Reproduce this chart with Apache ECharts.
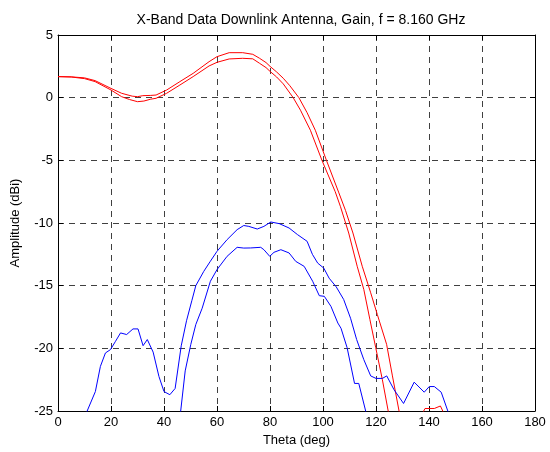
<!DOCTYPE html>
<html>
<head>
<meta charset="utf-8">
<script src="https://cdn.jsdelivr.net/npm/echarts@6/dist/echarts.min.js"></script>
<style>html,body{margin:0;padding:0;background:#fff}#c{width:550px;height:452px}</style>
</head>
<body>
<div id="c"></div>
<script>
var titleText = 'X-Band Data Downlink Antenna, Gain, f = 8.160 GHz';
var xTicks = [0, 20, 40, 60, 80, 100, 120, 140, 160, 180];
var yTicks = [-25, -20, -15, -10, -5, 0, 5];

var red1Theta = [0, 5, 10, 14, 20, 24, 28, 30, 32, 35, 37, 41, 46, 51, 57, 60, 64.6, 69.7, 73.5, 76, 78.5, 80, 82.5, 85, 87.5, 90.9, 94, 97.1, 101.3, 106, 108.5, 111.3, 114.8, 118, 120.5, 124, 126.2, 128.7, 133, 138, 138.5, 142, 144.3, 145.2, 148];
var red1Gain  = [1.68, 1.66, 1.58, 1.36, 0.74, 0.35, 0.12, 0.08, 0.16, 0.18, 0.21, 0.61, 1.28, 1.94, 2.87, 3.27, 3.59, 3.59, 3.46, 3.15, 2.8, 2.5, 2.05, 1.55, 0.95, 0, -1.2, -2.6, -5, -7.6, -9.0, -10.8, -13.45, -15.57, -17.3, -19.68, -22.2, -25, -28, -25, -24.8, -24.8, -24.6, -25, -28];

var red2Theta = [0, 5, 10, 14, 20, 24, 27, 30, 32.4, 35, 37, 41, 46, 51, 57, 60, 64.6, 69.7, 73.5, 76, 78.5, 80, 82.5, 85, 88.75, 91.5, 95.25, 99.6, 104.6, 106.6, 109.7, 112.9, 115.4, 117.7, 119.9, 122.4, 124.6, 127];
var red2Gain  = [1.68, 1.65, 1.52, 1.28, 0.61, 0.08, -0.15, -0.32, -0.27, -0.12, -0.05, 0.35, 1.01, 1.68, 2.53, 2.82, 3.09, 3.14, 3.1, 2.75, 2.4, 2.1, 1.65, 1.1, 0, -1.0, -2.6, -5, -7.5, -8.7, -10.8, -13.45, -15.3, -17.7, -19.95, -22.5, -25, -28];

var blue1Theta = [9, 11, 14.1, 16, 17.9, 19.8, 21.7, 23.6, 25.9, 28.3, 30.2, 32.1, 33.7, 35.9, 38.1, 40, 42.2, 44.2, 46.5, 48.5, 50.5, 52, 55, 57.5, 60, 63.8, 67.6, 70.1, 72, 75.2, 77.7, 80.3, 83.5, 87.2, 90.4, 94, 96, 98, 100.3, 102.3, 105, 107.8, 110.4, 112.7, 115.4, 118, 120, 122.4, 124.05, 126.8, 130.4, 134.4, 138.2, 140.1, 142, 144.6, 147.1, 149];
var blue1Gain  = [-28, -25, -23.45, -21.44, -20.37, -20.1, -19.44, -18.77, -18.9, -18.45, -18.45, -19.79, -19.3, -20.3, -22.25, -23.45, -23.7, -23.2, -19.8, -17.8, -16.2, -15.0, -13.86, -13.05, -12.26, -11.33, -10.53, -10.2, -10.27, -10.48, -10.27, -9.92, -10.05, -10.4, -10.93, -11.46, -12.5, -13.2, -13.6, -14.4, -15.1, -16.1, -17.6, -19.3, -20.9, -22.2, -22.4, -22.4, -22.2, -23.3, -24.4, -22.7, -23.5, -23.05, -23.05, -23.5, -25, -28];

var blue2Theta = [44, 46.3, 48, 50.1, 52, 54.4, 57.5, 60, 63.8, 67.6, 70.1, 72.7, 76.5, 77.7, 79.9, 81.5, 84.1, 87.2, 89.7, 92.9, 96.1, 98.6, 100.5, 103, 105.6, 106.8, 109.1, 111.9, 113.5, 116.1, 118];
var blue2Gain  = [-28, -25, -21.8, -19.7, -18.1, -16.8, -14.65, -13.72, -12.66, -11.94, -12.0, -11.99, -11.94, -12.13, -12.66, -12.34, -12.13, -12.39, -13.06, -13.46, -14.65, -15.8, -15.85, -16.65, -17.98, -18.4, -19.95, -22.8, -22.8, -25, -28];

function pairs(t, g) { return t.map(function (v, i) { return [v, g[i]]; }); }

var font = 'Liberation Sans, Arial, Helvetica, sans-serif';
var gridLine = { show: true, lineStyle: { color: '#000', width: 1, type: [6, 5], opacity: 0.75 } };
var axisLine = { show: true, onZero: false, lineStyle: { color: '#000', width: 1 } };
var tick = { show: true, inside: true, length: 5, lineStyle: { color: '#000' } };

function lineSeries(name, t, g, color) {
  return { name: name, type: 'line', data: pairs(t, g), symbol: 'none', clip: true,
    lineStyle: { color: color, width: 1 }, itemStyle: { color: color }, smooth: false, animation: false };
}

var chart = echarts.init(document.getElementById('c'), null, { renderer: 'canvas' });
chart.setOption({
  animation: false,
  backgroundColor: '#fff',
  title: { text: titleText, left: 296, top: 8, textAlign: 'center',
    textStyle: { fontFamily: font, fontSize: 14, fontWeight: 'normal', color: '#000' } },
  grid: { left: 58, right: 15, top: 35, bottom: 41, containLabel: false },
  xAxis: [
    { type: 'value', min: 0, max: 180, interval: 20, position: 'bottom',
      name: 'Theta (deg)', nameLocation: 'middle', nameGap: 21,
      nameTextStyle: { fontFamily: font, fontSize: 13, color: '#000' },
      axisLine: axisLine, axisTick: tick, splitLine: gridLine,
      axisLabel: { fontFamily: font, fontSize: 13, color: '#000', margin: 5 } },
    { type: 'value', min: 0, max: 180, interval: 20, position: 'top',
      axisLine: axisLine, axisTick: tick, splitLine: { show: false }, axisLabel: { show: false } }
  ],
  yAxis: [
    { type: 'value', min: -25, max: 5, interval: 5, position: 'left',
      name: 'Amplitude (dBi)', nameLocation: 'middle', nameGap: 36, nameRotate: 90,
      nameTextStyle: { fontFamily: font, fontSize: 13, color: '#000' },
      axisLine: axisLine, axisTick: tick, splitLine: gridLine,
      axisLabel: { fontFamily: font, fontSize: 13, color: '#000', margin: 5 } },
    { type: 'value', min: -25, max: 5, interval: 5, position: 'right',
      axisLine: axisLine, axisTick: tick, splitLine: { show: false }, axisLabel: { show: false } }
  ],
  series: [
    lineSeries('Red 1', red1Theta, red1Gain, '#ff0000'),
    lineSeries('Red 2', red2Theta, red2Gain, '#ff0000'),
    lineSeries('Blue 1', blue1Theta, blue1Gain, '#0000ff'),
    lineSeries('Blue 2', blue2Theta, blue2Gain, '#0000ff')
  ]
});
</script>
</body>
</html>
